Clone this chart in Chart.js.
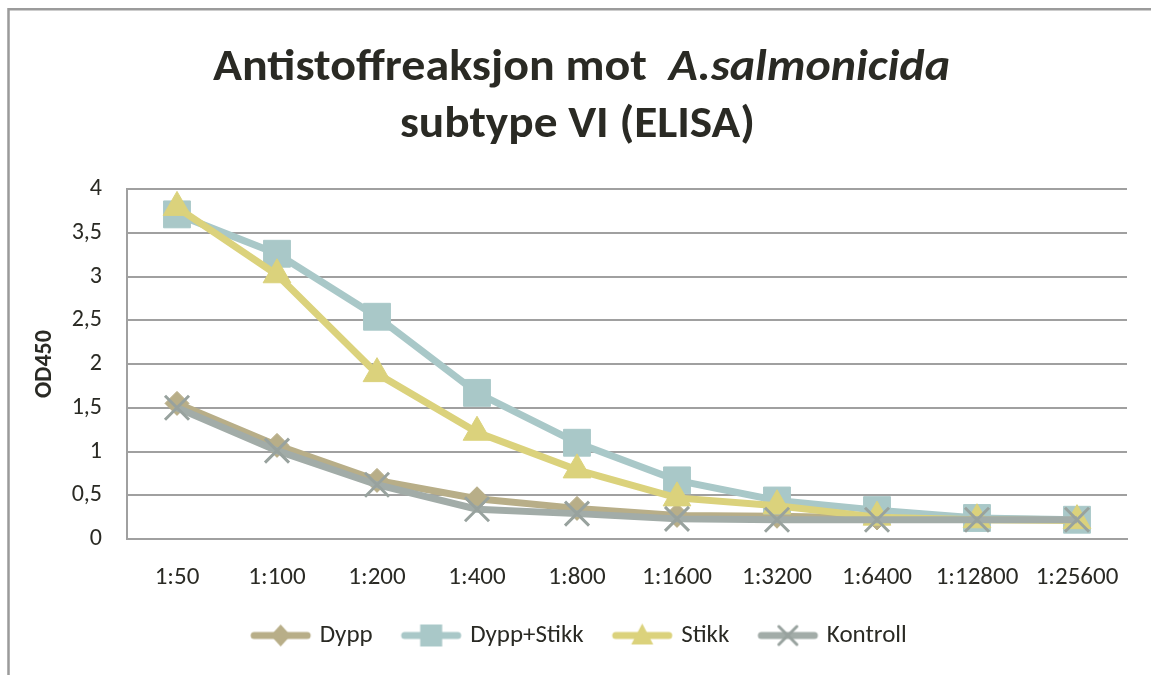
<!DOCTYPE html>
<html><head><meta charset="utf-8">
<script src="https://cdn.jsdelivr.net/npm/chart.js@4.4.1/dist/chart.umd.min.js"></script>
<style>html,body{margin:0;padding:0;background:#fff;} canvas{display:block;}</style>
</head><body>
<canvas id="c" width="1151" height="675"></canvas>
<script>
// ---- data ----
const categories = ['1:50','1:100','1:200','1:400','1:800','1:1600','1:3200','1:6400','1:12800','1:25600'];
const dypp       = [1.55, 1.07, 0.67, 0.46, 0.35, 0.27, 0.26, 0.24, 0.23, 0.22];
const dyppStikk  = [3.71, 3.26, 2.54, 1.67, 1.10, 0.67, 0.44, 0.33, 0.24, 0.22];
const stikk      = [3.79, 3.02, 1.89, 1.22, 0.79, 0.47, 0.38, 0.25, 0.22, 0.21];
const kontroll   = [1.50, 1.01, 0.62, 0.34, 0.29, 0.23, 0.22, 0.22, 0.22, 0.22];
const seriesNames = ['Dypp','Dypp+Stikk','Stikk','Kontroll'];
const titleLine1Plain = 'Antistoffreaksjon mot  ';
const titleLine1Italic = 'A.salmonicida';
const titleLine2 = 'subtype VI (ELISA)';
const yAxisTitle = 'OD450';

const FONT = "Carlito, Lato, 'Open Sans', sans-serif";
const TEXT = '#2a2a24';
const GRID = '#a0a0a0';
const C_DYPP = '#b8ae88', C_DS = '#a9c8c8', C_ST = '#dbd27c', C_K = '#a2aca8', C_KX = '#98a29e';

function icon(kind, lineColor, markColor){
  const c = document.createElement('canvas'); c.width = 67; c.height = 30;
  const g = c.getContext('2d');
  g.strokeStyle = lineColor; g.lineWidth = 7; g.lineCap = 'round';
  g.beginPath(); g.moveTo(9,15); g.lineTo(62,15); g.stroke();
  g.fillStyle = markColor; g.strokeStyle = markColor;
  const x = 35.5, y = 15;
  g.beginPath();
  if (kind === 'diamond'){ g.moveTo(x, y-11); g.lineTo(x+10, y); g.lineTo(x, y+11); g.lineTo(x-10, y); g.closePath(); g.fill(); }
  else if (kind === 'square'){ g.fillRect(x-11, y-11, 22, 22); }
  else if (kind === 'triangle'){ g.moveTo(x, y-12); g.lineTo(x+11, y+9); g.lineTo(x-11, y+9); g.closePath(); g.fill(); }
  else { g.lineWidth = 3; g.moveTo(x-9, y-9); g.lineTo(x+9, y+9); g.moveTo(x+9, y-9); g.lineTo(x-9, y+9); g.stroke(); }
  return c;
}
const icons = [icon('diamond', C_DYPP, C_DYPP), icon('square', C_DS, C_DS), icon('triangle', C_ST, C_ST), icon('x', C_K, C_KX)];

const framePlugin = {
  id: 'frame',
  beforeDraw(chart){
    const g = chart.ctx; g.save();
    g.fillStyle = '#fff'; g.fillRect(0,0,chart.width,chart.height);
    g.strokeStyle = '#9b9b9b'; g.lineWidth = 2.5;
    g.beginPath(); g.moveTo(8.5, 680); g.lineTo(8.5, 9.3); g.lineTo(1160, 9.3); g.stroke();
    g.restore();
  },
  afterDraw(chart){
    const g = chart.ctx; g.save();
    g.fillStyle = TEXT; g.textBaseline = 'alphabetic'; g.textAlign = 'left';
    const fPlain = "bold 44px " + FONT, fItal = "italic bold 44px " + FONT;
    g.font = fPlain; const w1 = g.measureText(titleLine1Plain).width;
    g.font = fItal; const w2 = g.measureText(titleLine1Italic).width;
    const sx1 = 737 / (w1 + w2);
    g.save(); g.translate(581.5, 80); g.scale(sx1, 1);
    const x0 = -(w1 + w2) / 2;
    g.font = fPlain; g.fillText(titleLine1Plain, x0, 0);
    g.font = fItal; g.fillText(titleLine1Italic, x0 + w1, 0);
    g.restore();
    g.font = fPlain; const w3 = g.measureText(titleLine2).width;
    const sx2 = 355 / w3;
    g.save(); g.translate(577.5, 137); g.scale(sx2, 1);
    g.textAlign = 'center'; g.fillText(titleLine2, 0, 0);
    g.restore();
    g.restore();
  }
};

new Chart(document.getElementById('c'), {
  type: 'line',
  data: {
    labels: categories,
    datasets: [
      { label: seriesNames[0], data: dypp, borderColor: C_DYPP, backgroundColor: C_DYPP, borderWidth: 7,
        pointStyle: 'rectRot', pointRadius: 12, pointBackgroundColor: C_DYPP, pointBorderColor: C_DYPP, pointBorderWidth: 1, order: 4 },
      { label: seriesNames[1], data: dyppStikk, borderColor: C_DS, backgroundColor: C_DS, borderWidth: 7,
        pointStyle: 'rect', pointRadius: 19, pointBackgroundColor: C_DS, pointBorderColor: C_DS, pointBorderWidth: 1, order: 3 },
      { label: seriesNames[2], data: stikk, borderColor: C_ST, backgroundColor: C_ST, borderWidth: 7,
        pointStyle: 'triangle', pointRadius: 16, pointBackgroundColor: C_ST, pointBorderColor: C_ST, pointBorderWidth: 1, order: 2 },
      { label: seriesNames[3], data: kontroll, borderColor: C_K, backgroundColor: C_K, borderWidth: 7,
        pointStyle: 'crossRot', pointRadius: 17, pointBackgroundColor: C_KX, pointBorderColor: C_KX, pointBorderWidth: 3, order: 1 }
    ]
  },
  options: {
    responsive: false, animation: false,
    layout: { padding: { top: 189, left: 30, right: 24, bottom: 17 } },
    elements: { line: { tension: 0 } },
    plugins: {
      title: { display: false },
      tooltip: { enabled: false },
      legend: {
        position: 'bottom',
        labels: {
          usePointStyle: true, pointStyleWidth: 57, padding: 28,
          color: TEXT, font: { family: FONT, size: 25 },
          generateLabels(chart){
            const items = Chart.defaults.plugins.legend.labels.generateLabels(chart);
            items.sort((a,b) => a.datasetIndex - b.datasetIndex);
            items.forEach(it => { it.pointStyle = icons[it.datasetIndex]; it.fontColor = TEXT; it.lineWidth = 0; });
            return items;
          }
        }
      }
    },
    scales: {
      x: {
        offset: true,
        grid: { display: false, drawTicks: false, offset: true },
        border: { display: true, color: GRID, width: 2 },
        ticks: { color: TEXT, font: { family: FONT, size: 25 }, padding: 24, maxRotation: 0, autoSkip: false },
        afterFit(s){ s.height = 56; }
      },
      y: {
        min: 0, max: 4,
        grid: { color: GRID, lineWidth: 2, drawTicks: false },
        border: { display: true, color: GRID, width: 2 },
        ticks: { stepSize: 0.5, color: TEXT, font: { family: FONT, size: 24 }, padding: 25,
          callback: v => String(v).replace('.', ',') },
        title: { display: true, text: yAxisTitle, color: TEXT, font: { family: FONT, size: 24, weight: 'bold' }, padding: { top: 1, bottom: 0 } },
        afterFit(s){ s.width = 97; }
      }
    }
  },
  plugins: [framePlugin]
});
</script>
</body></html>
